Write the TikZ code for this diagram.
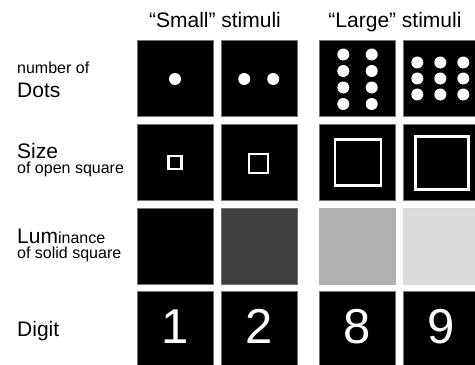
\documentclass[tikz,border=0pt]{standalone}
\usepackage{fontspec}
\setmainfont{Liberation Sans}
\begin{document}
\begin{tikzpicture}[x=1bp,y=-1bp,
  cell/.style={draw=black!55,line width=0.7bp,minimum size=76bp,inner sep=0pt,outer sep=0pt},
  dot/.style={circle,fill=white,inner sep=0pt,minimum size=12bp},
  osq/.style={draw=white,line width=2.2bp},
  big/.style={font=\fontsize{21bp}{24bp}\selectfont},
  lbl/.style={anchor=base west,inner sep=0pt},
  digit/.style={text=white,font=\fontsize{49bp}{50bp}\selectfont,inner sep=0pt}]
\useasboundingbox (0,0) rectangle (475,364);
\clip (0,0) rectangle (475,364);
% headers
\node[big,anchor=base,inner sep=0pt] (hs) at (215,27) {“Small” stimuli};
\node[big,anchor=base,inner sep=0pt] (hl) at (395,27) {“Large” stimuli};
% row labels
\node[lbl,font=\fontsize{16bp}{18bp}\selectfont] (l1a) at (17,73) {number of};
\node[lbl,big] (l1b) at (17,97.5) {Dots};
\node[lbl,big] (l2a) at (17,158.5) {Size};
\node[lbl,font=\fontsize{16bp}{18bp}\selectfont] (l2b) at (17,173.5) {of open square};
\node[lbl] (l3a) at (17,243.5) {\fontsize{21bp}{24bp}\selectfont Lum\fontsize{16bp}{18bp}\selectfont inance};
\node[lbl,font=\fontsize{16bp}{18bp}\selectfont] (l3b) at (17,258.5) {of solid square};
\node[lbl,big] (l4) at (17,336.5) {Digit};
% row 1: dots
\node[cell,fill=black] (a1) at (175,78.7) {};
\node[cell,fill=black] (a2) at (258.9,78.7) {};
\node[cell,fill=black] (a3) at (357.5,78.7) {};
\node[cell,fill=black] (a4) at (441.5,78.7) {};
\node[dot] (a1d) at (175,79) {};
\node[dot] (a2d1) at (244.2,79) {};
\node[dot] (a2d2) at (273.2,79) {};
\foreach \xx in {343.3,371.7}{\foreach \yy in {54.5,71,87.5,104}{\node[dot] at (\xx,\yy) {};}}
\foreach \xx in {417.3,440.3,463.3}{\foreach \yy in {62.5,78.5,94.5}{\node[dot] at (\xx,\yy) {};}}
% row 2: open squares
\node[cell,fill=black] (b1) at (175,162) {};
\node[cell,fill=black] (b2) at (258.9,162) {};
\node[cell,fill=black] (b3) at (357.5,162) {};
\node[cell,fill=black] (b4) at (441.5,162) {};
\draw[osq] (175,162.5) ++(-6.5,-6.5) rectangle ++(13,13);
\draw[osq] (258.8,163.3) ++(-9.5,-9.5) rectangle ++(19,19);
\draw[osq] (358,162.5) ++(-23,-23) rectangle ++(46,46);
\draw[osq] (442,163) ++(-26.5,-26.5) rectangle ++(53,53);
% row 3: luminance
\node[cell,fill=black] (c1) at (175,246) {};
\node[cell,fill={rgb,255:red,64;green,64;blue,64}] (c2) at (258.9,246) {};
\node[cell,fill={rgb,255:red,176;green,176;blue,176},draw=black!30] (c3) at (357.5,246) {};
\node[cell,fill={rgb,255:red,220;green,220;blue,220},draw=black!15] (c4) at (441.5,246) {};
% row 4: digits
\node[cell,fill=black] (e1) at (175,329.5) {};
\node[cell,fill=black] (e2) at (258.9,329.5) {};
\node[cell,fill=black] (e3) at (357.5,329.5) {};
\node[cell,fill=black] (e4) at (441.5,329.5) {};
\node[digit,anchor=base] (n1) at (175,343) {1};
\node[digit,anchor=base] (n2) at (258.9,343) {2};
\node[digit,anchor=base] (n8) at (357.5,343) {8};
\node[digit,anchor=base] (n9) at (441.5,343) {9};
\end{tikzpicture}
\end{document}
